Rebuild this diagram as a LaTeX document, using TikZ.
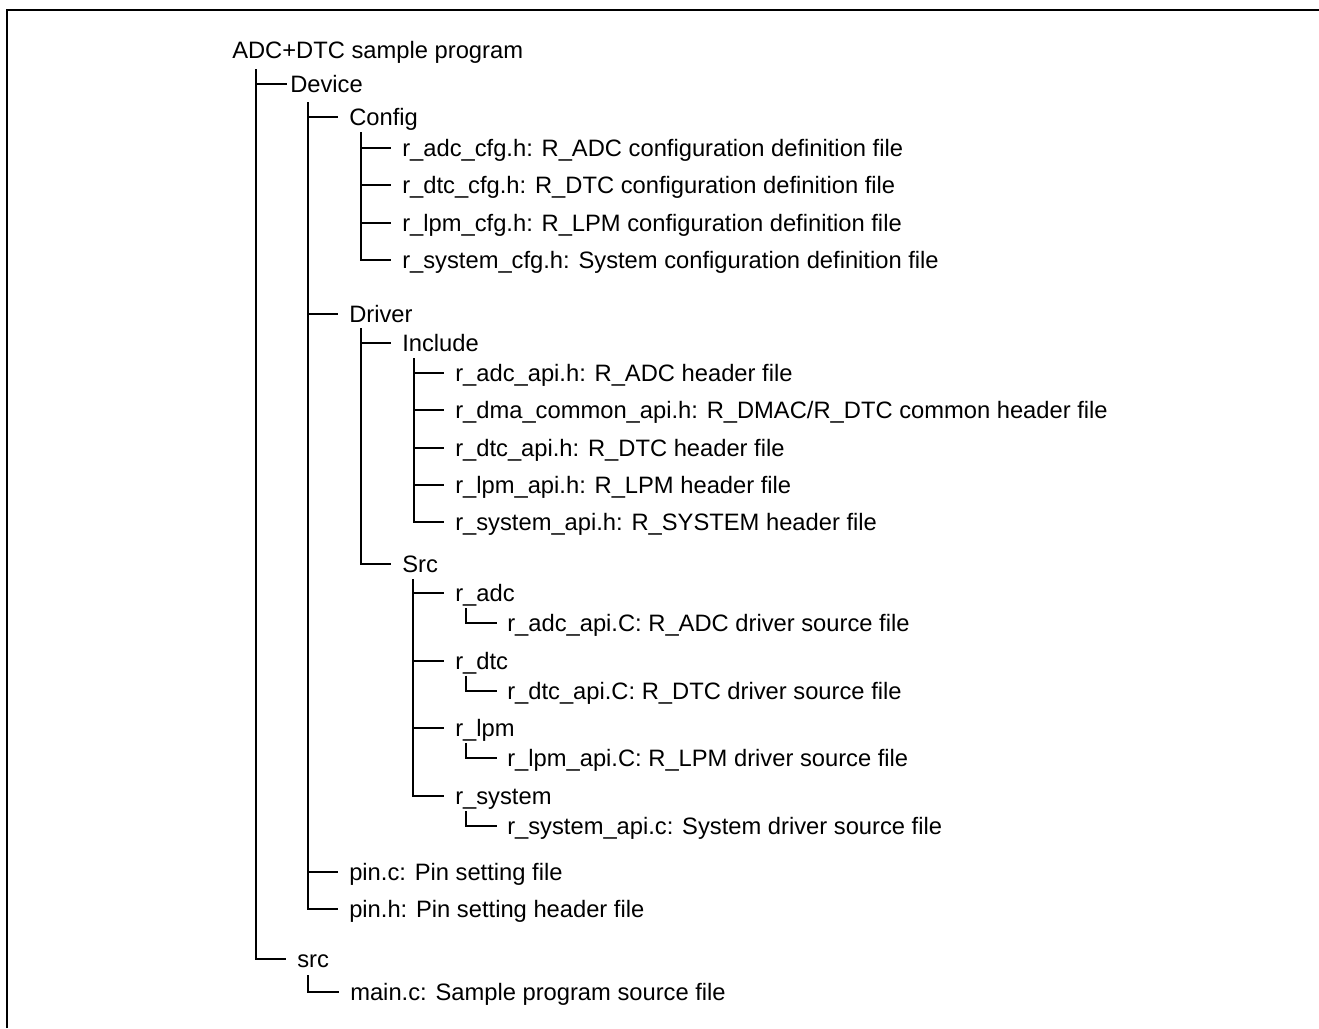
\documentclass[tikz,border=0pt]{standalone}
\usepackage{fontspec}
\setmainfont{Liberation Sans}
\usetikzlibrary{positioning, calc}

\begin{document}
\begin{tikzpicture}[x=0.75pt, y=-0.75pt]
  \newcommand\treelinewidth{1.4pt}
  \newcommand\filestep{28pt} % 37.5px between two file lines
  \newcommand\labelgap{8.25pt}

  \tikzset{
    entry/.style={inner sep=0, anchor=west, text height=12.7pt, text depth=0pt, font=\fontsize{17.8}{20}\selectfont},
    branch/.style={line width=\treelinewidth},
  }

  \useasboundingbox (0, 0) rectangle (1319, 1028);
  \draw[line width=1.6pt] (7, 1028) -- (7, 10) -- (1319, 10);

  \node[entry] at (232, 50) (root) {ADC+DTC sample program};
  \node[entry] at (290, 84) (dev) {Device};
  \node[entry] at (297, 959) (srcdir) {src};
  \node[entry] at (350, 992) (mainc) {main.c: Sample program source file};

  \draw[branch] ([shift={(18pt,-14.25pt)}]root.west) |- ([xshift=-2.25pt]dev.west);
  \draw[branch] ([shift={(18pt,-14.25pt)}]root.west) |- ([xshift=-\labelgap]srcdir.west);
  \draw[branch] ([shift={(8.25pt,-12pt)}]srcdir.west) |- ([xshift=-\labelgap]mainc.west);

  \node[entry] at (349, 117) (cfg) {Config};
  \node[entry] at (349, 314) (drv) {Driver};
  \node[entry] at (349, 872) (pinc) {pin.c: Pin setting file};
  \node[entry, below=\filestep of pinc.west, anchor=west] (pinh) {pin.h: Pin setting header file};

  \foreach \child in {cfg, drv, pinc, pinh}{
    \draw[branch] ([shift={(13.5pt,-13.5pt)}]dev.west) |- ([xshift=-\labelgap]\child.west);
  }

  % Config
  \node[entry] at (402, 148) (cfg-1) {r\_adc\_cfg.h: R\_ADC configuration definition file};
  \foreach \fname [count=\previ from 1, evaluate=\previ as \i using int(\previ+1)] in {r\_dtc\_cfg.h: R\_DTC configuration definition file, r\_lpm\_cfg.h: R\_LPM configuration definition file, r\_system\_cfg.h: System configuration definition file}{
    \node[entry, below=\filestep of cfg-\previ.west, anchor=west] (cfg-\i) {\fname};
  }
  \foreach \i in {1,...,4}{
    \draw[branch] ([shift={(9pt,-11.25pt)}]cfg.west) |- ([xshift=-\labelgap]cfg-\i.west);
  }

  % Driver
  \node[entry] at (402, 343) (inc) {Include};
  \node[entry] at (402, 564) (drvsrc) {Src};
  \draw[branch] ([shift={(9pt,-10.5pt)}]drv.west) |- ([xshift=-\labelgap]inc.west);
  \draw[branch] ([shift={(9pt,-10.5pt)}]drv.west) |- ([xshift=-\labelgap]drvsrc.west);

  \node[entry] at (455, 373) (inc-1) {r\_adc\_api.h: R\_ADC header file};
  \foreach \fname [count=\previ from 1, evaluate=\previ as \i using int(\previ+1)] in {r\_dma\_common\_api.h: R\_DMAC/R\_DTC common header file, r\_dtc\_api.h: R\_DTC header file, r\_lpm\_api.h: R\_LPM header file, r\_system\_api.h: R\_SYSTEM header file}{
    \node[entry, below=\filestep of inc-\previ.west, anchor=west] (inc-\i) {\fname};
  }
  \foreach \i in {1,...,5}{
    \draw[branch] ([shift={(9pt,-11.25pt)}]inc.west) |- ([xshift=-\labelgap]inc-\i.west);
  }

  \foreach \dname/\fname [count=\k] in {r\_adc/r\_adc\_api.C: R\_ADC driver source file, r\_dtc/r\_dtc\_api.C: R\_DTC driver source file, r\_lpm/r\_lpm\_api.C: R\_LPM driver source file, r\_system/r\_system\_api.c: System driver source file}{
    \node[entry] at (455, {593+67.7*(\k-1)}) (sub-\k) {\dname};
    \node[entry] at ($(sub-\k.west)+(52, 30)$) (sub-\k-1) {\fname};
    \draw[branch] ([shift={(8.25pt,-11.25pt)}]drvsrc.west) |- ([xshift=-\labelgap]sub-\k.west);
    \draw[branch] ([shift={(8.25pt,-11.25pt)}]sub-\k.west) |- ([xshift=-7.5pt]sub-\k-1.west);
  }
\end{tikzpicture}
\end{document}
